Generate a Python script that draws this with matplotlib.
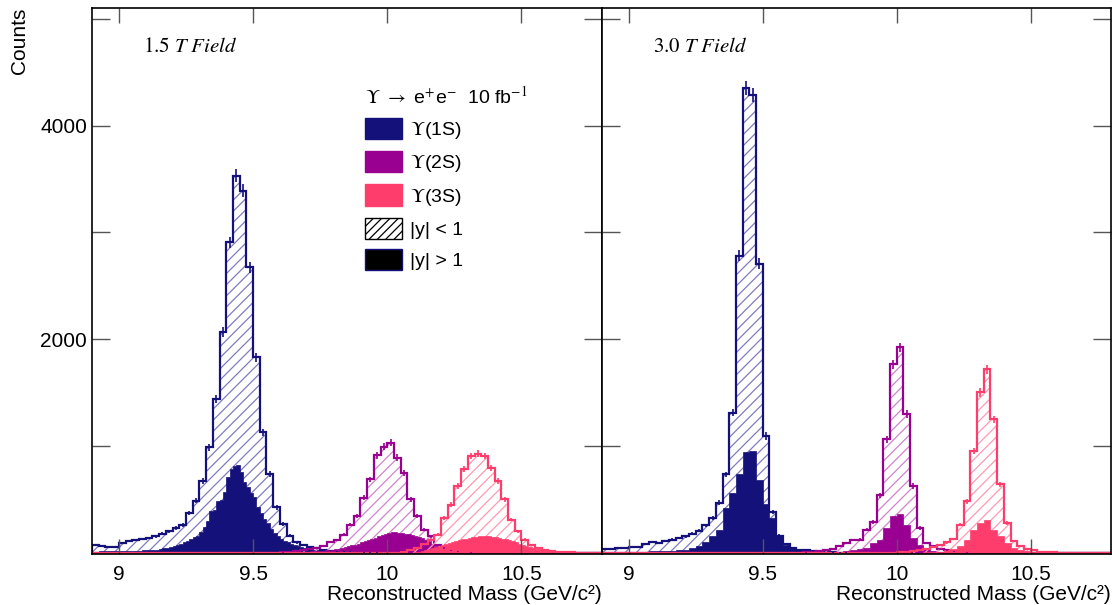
import numpy as np
import matplotlib.pyplot as plt
from matplotlib.patches import Patch

plt.rcParams['font.family'] = ['Liberation Sans', 'DejaVu Sans']
plt.rcParams['mathtext.fontset'] = 'stix'
plt.rcParams['hatch.linewidth'] = 0.9

#####################################
# binning (GeV/c^2)
#####################################
m_lo, m_hi = 8.9, 10.8
w_coarse = 0.025
w_fine = 0.0125

#####################################
# 1.5 T field, |y| < 1 (hatched), 0.025 bins
#####################################
h1_15_start = 8.9
h1_15 = [77, 70, 58, 60, 95, 111, 124, 133, 142, 158,
         180, 205, 236, 262, 377, 490, 677, 989, 1441, 2066,
         2908, 3532, 3391, 2674, 1832, 1130, 739, 428, 271, 162,
         100, 75, 60, 45, 30, 22, 18, 15, 12, 10,
         8, 6, 5, 4, 3, 3, 2, 2, 1, 1]
h2_15_start = 9.6
h2_15 = [8, 12, 18, 25, 35, 48, 70, 101, 120, 173,
         267, 352, 518, 689, 914, 996, 1034, 893, 752, 502,
         345, 220, 158, 80, 48, 27, 15, 10, 6, 4,
         3, 2]
h3_15_start = 10.05
h3_15 = [15, 30, 50, 89, 127, 173, 330, 455, 627, 783,
         908, 930, 908, 799, 674, 502, 314, 205, 127, 80,
         48, 33, 20, 15, 10, 8, 6, 5, 4, 3]

# 1.5 T field, |y| > 1 (solid), 0.0125 bins
s1_15_start = 8.9
s1_15 = [15, 15, 16, 16, 17, 17, 18, 18, 19, 20,
         20, 21, 22, 23, 24, 26, 27, 29, 31, 33,
         38, 44, 49, 55, 64, 75, 88, 100, 118, 135,
         150, 160, 200, 240, 302, 396, 400, 490, 495, 571,
         711, 786, 817, 820, 756, 663, 620, 560, 524, 430,
         380, 318, 280, 225, 190, 159, 135, 115, 100, 90,
         80, 70, 60, 50, 42, 35, 30, 25, 20, 16,
         14, 12, 10, 9, 8, 7, 6, 5, 5, 4, 4]
s2_15_start = 9.675
s2_15 = [10, 12, 14, 16, 18, 20, 23, 26, 30, 34,
         38, 43, 50, 57, 64, 72, 80, 90, 100, 110,
         120, 135, 145, 160, 170, 180, 190, 195, 197, 192,
         188, 182, 178, 170, 160, 150, 140, 125, 110, 90,
         70, 50, 35, 25, 18, 12, 8, 5, 3]
s3_15_start = 10.1
s3_15 = [10, 15, 20, 30, 40, 50, 60, 70, 80, 88,
         95, 105, 112, 120, 128, 135, 142, 150, 155, 158,
         160, 158, 156, 152, 148, 142, 135, 128, 120, 110,
         100, 90, 80, 70, 60, 50, 42, 35, 28, 22,
         17, 13, 10, 8, 6, 5, 4, 3, 3, 2,
         2, 2, 2, 1, 1, 1]

#####################################
# 3.0 T field, |y| < 1 (hatched), 0.025 bins
#####################################
h1_30_start = 8.9
h1_30 = [37, 40, 45, 48, 58, 62, 89, 101, 95, 111,
         127, 142, 158, 180, 210, 260, 330, 471, 736, 1315,
         2784, 4348, 4285, 2706, 1096, 385, 165, 85, 49, 33,
         25, 18, 14, 10, 8, 6, 5, 4, 3, 3,
         2, 2, 1, 1]
h2_30_start = 9.65
h2_30 = [8, 12, 18, 25, 35, 70, 96, 120, 127, 220,
         289, 542, 1065, 1768, 1925, 1299, 627, 236, 96, 64,
         40, 25, 15, 10, 6, 4]
h3_30_start = 10.0
h3_30 = [8, 12, 18, 28, 40, 55, 80, 100, 130, 267,
         486, 955, 1503, 1721, 1252, 643, 283, 111, 64, 37,
         25, 15, 10, 8, 6, 4, 3, 3, 2, 2,
         2, 1]

# 3.0 T field, |y| > 1 (solid), 0.025 bins
s1_30_start = 8.9
s1_30 = [8, 10, 10, 12, 12, 14, 15, 16, 18, 20,
         24, 28, 33, 50, 70, 100, 165, 220, 420, 560,
         740, 950, 960, 680, 460, 330, 170, 80, 45, 28,
         18, 12, 8, 6, 4, 3, 2, 2, 1]
s2_30_start = 9.65
s2_30 = [5, 6, 8, 10, 12, 15, 20, 30, 37, 50,
         96, 127, 236, 345, 370, 267, 142, 80, 40, 20,
         12, 8, 5]
s3_30_start = 10.1
s3_30 = [8, 12, 15, 25, 40, 70, 127, 220, 283, 310,
         220, 158, 96, 49, 30, 18, 12, 8, 5, 3]

states = ['1S', '2S', '3S']
line_colors = ['#15117a', '#990092', '#ff3d6c']
hatch_colors = ['#7f7dbd', '#cf84cc', '#ff9ab2']

xticks = [9, 9.5, 10, 10.5]
xticklabels = ['9', '9.5', '10', '10.5']
yticks = [2000, 4000]
yticks_minor = [1000, 3000, 5000]


def full_hist(start, vals, w):
    n = int(round((m_hi - m_lo) / w))
    out = np.zeros(n)
    i0 = int(round((start - m_lo) / w))
    out[i0:i0 + len(vals)] = vals
    return out


def draw_state(ax, hatched, solid, color, hcolor):
    e = np.linspace(m_lo, m_hi, len(hatched) + 1)
    ax.stairs(hatched, e, fill=True, facecolor='none', edgecolor=hcolor,
              hatch='///', linewidth=0)
    ax.stairs(hatched, e, color=color, linewidth=1.6)
    c = 0.5 * (e[:-1] + e[1:])
    m = hatched > 0
    ax.errorbar(c[m], hatched[m], yerr=np.sqrt(hatched[m]), fmt='none',
                ecolor=color, elinewidth=1.2)
    es = np.linspace(m_lo, m_hi, len(solid) + 1)
    ax.stairs(solid, es, fill=True, facecolor=color, edgecolor=color,
              linewidth=0.5)


fig = plt.figure(figsize=(11.12, 6.05), dpi=100)
ax1 = fig.add_axes([92 / 1112, 51 / 605, 510 / 1112, 546 / 605])
ax2 = fig.add_axes([602 / 1112, 51 / 605, 509 / 1112, 546 / 605])

panels = [
    (ax1, [(h1_15_start, h1_15), (h2_15_start, h2_15), (h3_15_start, h3_15)],
     [(s1_15_start, s1_15), (s2_15_start, s2_15), (s3_15_start, s3_15)], w_fine,
     r'$\mathrm{1.5}\ T\ Field$'),
    (ax2, [(h1_30_start, h1_30), (h2_30_start, h2_30), (h3_30_start, h3_30)],
     [(s1_30_start, s1_30), (s2_30_start, s2_30), (s3_30_start, s3_30)], w_coarse,
     r'$\mathrm{3.0}\ T\ Field$'),
]

for ax, hs, ss, ws, tag in panels:
    for i in range(3):
        hh = full_hist(hs[i][0], hs[i][1], w_coarse)
        sh = full_hist(ss[i][0], ss[i][1], ws)
        draw_state(ax, hh, sh, line_colors[i], hatch_colors[i])
    ax.set_xlim(m_lo, m_hi)
    ax.set_ylim(-8, 5100)
    ax.set_xticks(xticks)
    ax.set_xticklabels(xticklabels)
    ax.set_yticks(yticks)
    ax.set_yticks(yticks_minor, minor=True)
    ax.tick_params(which='both', direction='in', top=True, right=True,
                   color='#555555', width=1, labelsize=15)
    ax.tick_params(axis='x', which='both', length=11, pad=8)
    ax.tick_params(axis='y', which='both', length=13)
    for sp in ax.spines.values():
        sp.set_linewidth(1.2)
    ax.set_xlabel('Reconstructed Mass (GeV/c²)', loc='right', fontsize=15,
                  labelpad=1)
    ax.text(0.1, 0.929, tag, transform=ax.transAxes, fontsize=15,
            va='center', ha='left')

ax2.tick_params(axis='y', which='both', labelleft=False)
ax1.set_ylabel('Counts', loc='top', fontsize=15)
ax1.yaxis.set_label_coords(-0.123, 1.0)

handles = [Patch(facecolor=line_colors[i], edgecolor=line_colors[i])
           for i in range(3)]
handles.append(Patch(facecolor='white', edgecolor='black', hatch='////',
                     linewidth=1))
handles.append(Patch(facecolor='black', edgecolor='#15117a', linewidth=1))
labels = [r'$\Upsilon$(' + s + ')' for s in states] + ['|y| < 1', '|y| > 1']
leg = ax1.legend(handles, labels, loc='upper left',
                 bbox_to_anchor=(0.535, 0.858), borderaxespad=0, borderpad=0,
                 frameon=False, fontsize=14, handlelength=1.9,
                 handleheight=1.29, labelspacing=0.53, handletextpad=0.4,
                 title=r'$\Upsilon$ $\rightarrow$ e$^{+}$e$^{-}$  10 fb$^{-1}$',
                 title_fontsize=14, alignment='left')

fig.savefig('out.png', dpi=100)
